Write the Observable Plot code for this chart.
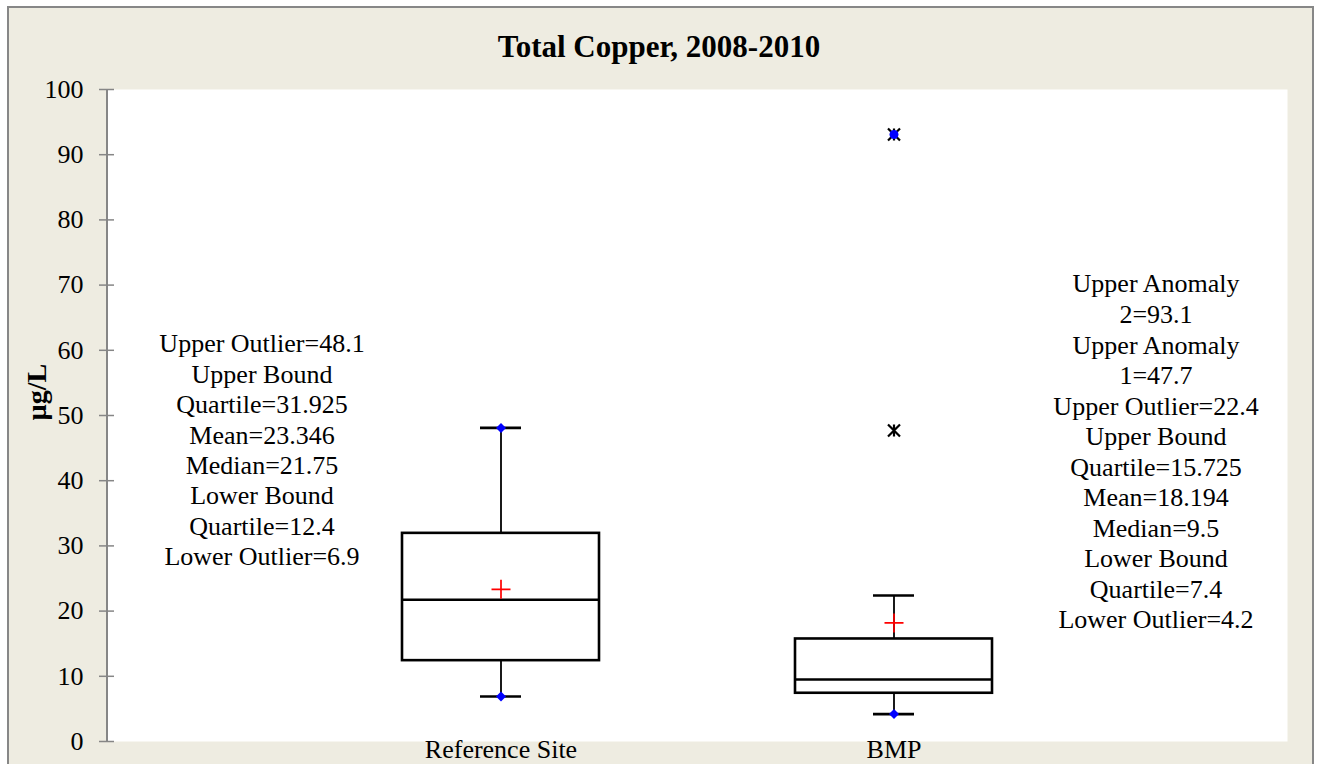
<!DOCTYPE html>
<html>
<head>
<meta charset="utf-8">
<script src="https://cdn.jsdelivr.net/npm/d3@7"></script>
<script src="https://cdn.jsdelivr.net/npm/@observablehq/plot@0.6"></script>
<style>
  html, body { margin: 0; padding: 0; background: #ffffff; overflow: hidden; width: 1317px; height: 764px; }
  #bg { position: absolute; left: 7px; top: 6px; width: 1307px; height: 900px; box-sizing: border-box;
        border: 2px solid #878787; background: #EEECE1; }
  #chart { position: absolute; left: 0; top: 0; }
  #chart svg { display: block; }
</style>
</head>
<body>
<div id="bg"></div>
<div id="chart"></div>
<script>
// ---- data ----
const title = "Total Copper, 2008-2010";
const yLabel = "µg/L";
const categories = ["Reference Site", "BMP"];
const lowerOutlier = [6.9, 4.2];
const lowerQuartile = [12.4, 7.4];
const median = [21.75, 9.5];
const mean = [23.346, 18.194];
const upperQuartile = [31.925, 15.725];
const upperOutlier = [48.1, 22.4];
const anomalySite = ["BMP", "BMP"];
const anomalyValue = [47.7, 93.1];
const markerSite = ["Reference Site", "Reference Site", "BMP"];
const markerValue = [48.1, 6.9, 4.2];
const yTicks = [0, 10, 20, 30, 40, 50, 60, 70, 80, 90, 100];

const rows = categories.map((site, i) => ({
  site, lo: lowerOutlier[i], q1: lowerQuartile[i], med: median[i],
  mean: mean[i], q3: upperQuartile[i], hi: upperOutlier[i]
}));
const anomalies = anomalySite.map((site, i) => ({site, value: anomalyValue[i]}));
const markers = markerSite.map((site, i) => ({site, value: markerValue[i]}));

const labelLeft = [
  `Upper Outlier=${upperOutlier[0]}`, "Upper Bound", `Quartile=${upperQuartile[0]}`,
  `Mean=${mean[0]}`, `Median=${median[0]}`, "Lower Bound", `Quartile=${lowerQuartile[0]}`,
  `Lower Outlier=${lowerOutlier[0]}`
].join("\n");
const labelRight = [
  "Upper Anomaly", `2=${anomalyValue[1]}`, "Upper Anomaly", `1=${anomalyValue[0]}`,
  `Upper Outlier=${upperOutlier[1]}`, "Upper Bound", `Quartile=${upperQuartile[1]}`,
  `Mean=${mean[1]}`, `Median=${median[1]}`, "Lower Bound", `Quartile=${lowerQuartile[1]}`,
  `Lower Outlier=${lowerOutlier[1]}`
].join("\n");

// ---- custom symbols ----
const plusSymbol = {draw(ctx, size) { const r = Math.sqrt(size / Math.PI);
  ctx.moveTo(-r, 0); ctx.lineTo(r, 0); ctx.moveTo(0, -r); ctx.lineTo(0, r); }};
const starSymbol = {draw(ctx, size) { const r = Math.sqrt(size / Math.PI);
  ctx.moveTo(-r, -r); ctx.lineTo(r, r); ctx.moveTo(-r, r); ctx.lineTo(r, -r);
  ctx.moveTo(0, -r); ctx.lineTo(0, r); }};
const diamondSymbol = {draw(ctx, size) { const r = Math.sqrt(size / Math.PI);
  ctx.moveTo(0, -r); ctx.lineTo(r, 0); ctx.lineTo(0, r); ctx.lineTo(-r, 0); ctx.closePath(); }};

const serif = "'Liberation Serif', 'Times New Roman', serif";

const axisLine = (index, scales, values, dimensions) => {
  const ns = "http://www.w3.org/2000/svg";
  const line = document.createElementNS(ns, "line");
  const x = dimensions.marginLeft;
  line.setAttribute("x1", x); line.setAttribute("x2", x);
  line.setAttribute("y1", scales.y(0)); line.setAttribute("y2", scales.y(100));
  line.setAttribute("stroke", "#868686"); line.setAttribute("stroke-width", 2);
  return line;
};

const chart = Plot.plot({
  width: 1317,
  height: 764,
  marginLeft: 107,
  marginRight: 30,
  marginTop: 89,
  marginBottom: 23,
  style: {background: "transparent", fontFamily: serif, color: "black", overflow: "visible"},
  x: {type: "band", domain: categories, paddingInner: 0.5, paddingOuter: 0.75, align: 0.5},
  y: {domain: [0, 100]},
  marks: [
    Plot.frame({fill: "white", stroke: null}),
    axisLine,
    Plot.axisY({ticks: yTicks, tickSize: 15, dx: 7, fill: "none", stroke: "#868686", strokeWidth: 1.5, label: null, tickFormat: () => ""}),
    Plot.axisY({ticks: yTicks, tickSize: 0, tickPadding: 24, fontSize: 26, fill: "black", label: null}),
    Plot.axisX({tickSize: 0, tickPadding: 0, dy: -2, fontSize: 26, fill: "black", label: null}),
    // whiskers
    Plot.ruleX(rows, {x: "site", y1: "lo", y2: "q1", stroke: "black", strokeWidth: 1.8}),
    Plot.ruleX(rows, {x: "site", y1: "q3", y2: "hi", stroke: "black", strokeWidth: 1.8}),
    Plot.tickY(rows, {x: "site", y: "lo", stroke: "black", strokeWidth: 2.6, insetLeft: 78, insetRight: 78}),
    Plot.tickY(rows, {x: "site", y: "hi", stroke: "black", strokeWidth: 2.6, insetLeft: 78, insetRight: 78}),
    // box
    Plot.barY(rows, {x: "site", y1: "q1", y2: "q3", fill: "white", stroke: "black", strokeWidth: 2.6}),
    Plot.tickY(rows, {x: "site", y: "med", stroke: "black", strokeWidth: 2.4}),
    // mean
    Plot.dot(rows, {x: "site", y: "mean", symbol: plusSymbol, r: 9.5, stroke: "#FF0000", fill: "none", strokeWidth: 1.7}),
    // markers
    Plot.dot(markers, {x: "site", y: "value", symbol: diamondSymbol, r: 5, fill: "#0000FF", stroke: "none"}),
    Plot.dot(anomalies, {x: "site", y: "value", symbol: starSymbol, r: 6, stroke: "black", fill: "none", strokeWidth: 2.2}),
    Plot.dot(anomalies.filter(d => d.value === anomalyValue[1]), {x: "site", y: "value", r: 4.5, fill: "#0000FF", stroke: "none"}),
    // annotations
    Plot.text([labelLeft], {x: [categories[0]], y: [63.0], text: d => d, dx: -239, lineAnchor: "top", lineHeight: 1.17, fontSize: 26, fill: "black"}),
    Plot.text([labelRight], {x: [categories[1]], y: [72.2], text: d => d, dx: 262, lineAnchor: "top", lineHeight: 1.175, fontSize: 26, fill: "black"}),
    // y label
    Plot.text([yLabel], {frameAnchor: "left", dx: -70, dy: 5, rotate: -90, fontSize: 28, fontWeight: "bold", fill: "black"}),
    // title
    Plot.text([title], {frameAnchor: "top", dx: -38.5, dy: -42, lineAnchor: "middle", fontSize: 31, fontWeight: "bold", fill: "black"})
  ]
});
document.getElementById("chart").appendChild(chart);
</script>
</body>
</html>
